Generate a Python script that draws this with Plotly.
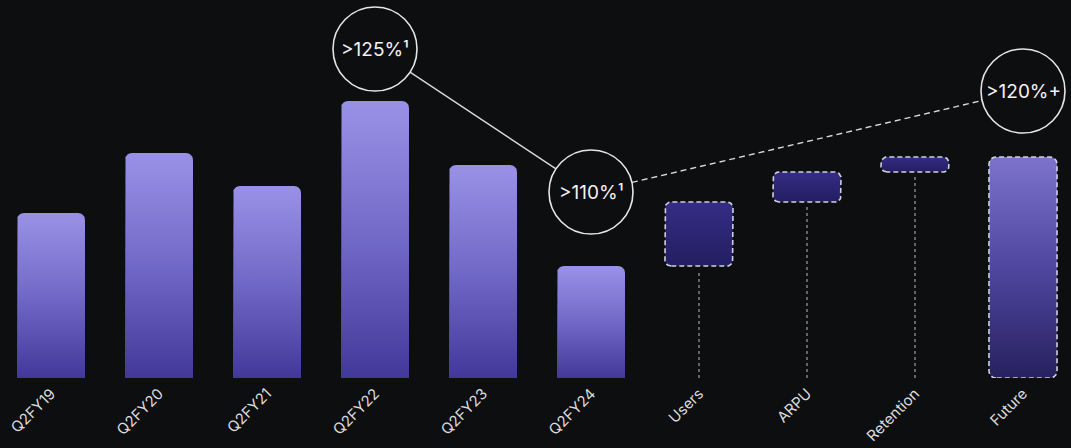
import numpy as np
import plotly.graph_objects as go

# ---------------- data ----------------
categories = ["Q2FY19", "Q2FY20", "Q2FY21", "Q2FY22", "Q2FY23", "Q2FY24",
              "Users", "ARPU", "Retention", "Future"]
history_values = [165, 225, 192, 277, 213, 112]
driver_labels = ["Users", "ARPU", "Retention"]
driver_increments = [64, 30, 15]
future_value = 221
callout_texts = [">125%\u00b9", ">110%\u00b9", ">120%+"]
callout_x = [3, 5, 9]
callout_y = [329, 186, 287]

# ---------------- layout geometry ----------------
W, H = 1071, 448
M = dict(l=0, r=0, t=0, b=70)
XR = [-51 / 108, (W - 51) / 108]
YR = [0, 378]
px_x = (W - M["l"] - M["r"]) / (XR[1] - XR[0])
px_y = (H - M["t"] - M["b"]) / (YR[1] - YR[0])
BAR_W = 0.63
BG = "#0d0e10"


def rrect(xc, y0, y1, r=7, bottom=False):
    x0, x1 = xc - BAR_W / 2, xc + BAR_W / 2
    rx, ry = r / px_x, r / px_y
    ry = min(ry, (y1 - y0) / 2)
    xs, ys = [], []

    def arc(cx, cy, a0, a1):
        for a in np.linspace(a0, a1, 9):
            xs.append(cx + rx * np.cos(a))
            ys.append(cy + ry * np.sin(a))

    if bottom:
        arc(x0 + rx, y0 + ry, 1.5 * np.pi, np.pi)
    else:
        xs.append(x0); ys.append(y0)
    arc(x0 + rx, y1 - ry, np.pi, 0.5 * np.pi)
    arc(x1 - rx, y1 - ry, 0.5 * np.pi, 0)
    if bottom:
        arc(x1 - rx, y0 + ry, 0, -0.5 * np.pi)
    else:
        xs.append(x1); ys.append(y0)
    xs.append(xs[0]); ys.append(ys[0])
    return xs, ys


fig = go.Figure()

hist_scale = [[0, "#42389a"], [0.5, "#7169c6"], [1, "#9a91e7"]]
for i, v in enumerate(history_values):
    xs, ys = rrect(i, 0, v, r=7)
    fig.add_trace(go.Scatter(x=xs, y=ys, mode="lines", fill="toself",
                             fillgradient=dict(type="vertical", colorscale=hist_scale),
                             line=dict(width=0), hoverinfo="skip", showlegend=False))

# waterfall drivers
drv_scale = [[0, "#231e62"], [1, "#342d85"]]
cum = history_values[-1]
for j, inc in enumerate(driver_increments):
    xc = len(history_values) + j
    y0, y1 = cum, cum + inc
    # dotted connector to baseline
    fig.add_trace(go.Scatter(x=[xc, xc], y=[0, y0 - 4 / px_y], mode="lines",
                             line=dict(color="#a0a0a0", width=1.2, dash="dot"),
                             hoverinfo="skip", showlegend=False))
    xs, ys = rrect(xc, y0, y1, r=6, bottom=True)
    fig.add_trace(go.Scatter(x=xs, y=ys, mode="lines", fill="toself",
                             fillgradient=dict(type="vertical", colorscale=drv_scale),
                             line=dict(width=1.6, color="#cfcfe0", dash="5px,3px"),
                             hoverinfo="skip", showlegend=False))
    cum = y1

# future bar
fut_scale = [[0, "#27215e"], [0.5, "#4f46a0"], [1, "#7d73cd"]]
xs, ys = rrect(len(categories) - 1, 0, future_value, r=7, bottom=True)
fig.add_trace(go.Scatter(x=xs, y=ys, mode="lines", fill="toself",
                         fillgradient=dict(type="vertical", colorscale=fut_scale),
                         line=dict(width=1.6, color="#cfcfe0", dash="5px,3px"),
                         hoverinfo="skip", showlegend=False))

# ---------------- callouts ----------------
R = 42


def to_px(x, y):
    return M["l"] + (x - XR[0]) * px_x, H - M["b"] - (y - YR[0]) * px_y


def to_data(px, py):
    return XR[0] + (px - M["l"]) / px_x, YR[0] + (H - M["b"] - py) / px_y


centers = [to_px(x, y) for x, y in zip(callout_x, callout_y)]
shapes = []
for k, dash in [(0, "solid"), (1, "6px,4px")]:
    (ax, ay), (bx, by) = centers[k], centers[k + 1]
    d = np.hypot(bx - ax, by - ay)
    ux, uy = (bx - ax) / d, (by - ay) / d
    sx, sy = to_data(ax + R * ux, ay + R * uy)
    ex, ey = to_data(bx - R * ux, by - R * uy)
    shapes.append(dict(type="line", xref="x", yref="y", x0=sx, y0=sy, x1=ex, y1=ey,
                       line=dict(color="#d9d9d9", width=1.4, dash=dash), layer="above"))

for x, y in zip(callout_x, callout_y):
    shapes.append(dict(type="circle", xref="x", yref="y", xsizemode="pixel", ysizemode="pixel",
                       xanchor=x, yanchor=y, x0=-R, x1=R, y0=-R, y1=R,
                       line=dict(color="#e6e6e6", width=1.6), fillcolor=BG, layer="above"))

annotations = [dict(x=x, y=y, xref="x", yref="y", text=t, showarrow=False,
                    font=dict(family="Inter", size=19, color="#f2f2f2"))
               for x, y, t in zip(callout_x, callout_y, callout_texts)]

fig.update_layout(
    width=W, height=H, margin=M,
    paper_bgcolor=BG, plot_bgcolor=BG,
    shapes=shapes, annotations=annotations,
    xaxis=dict(range=XR, tickvals=list(range(len(categories))), ticktext=categories,
               tickangle=-45, tickfont=dict(family="Inter", size=15, color="#dcdcdc"),
               ticklabelstandoff=3, automargin=False,
               showgrid=False, zeroline=False, showline=False, ticks="", fixedrange=True),
    yaxis=dict(range=YR, visible=False, showgrid=False, zeroline=False, fixedrange=True,
               automargin=False),
    showlegend=False,
)

fig.write_html("out.html")
